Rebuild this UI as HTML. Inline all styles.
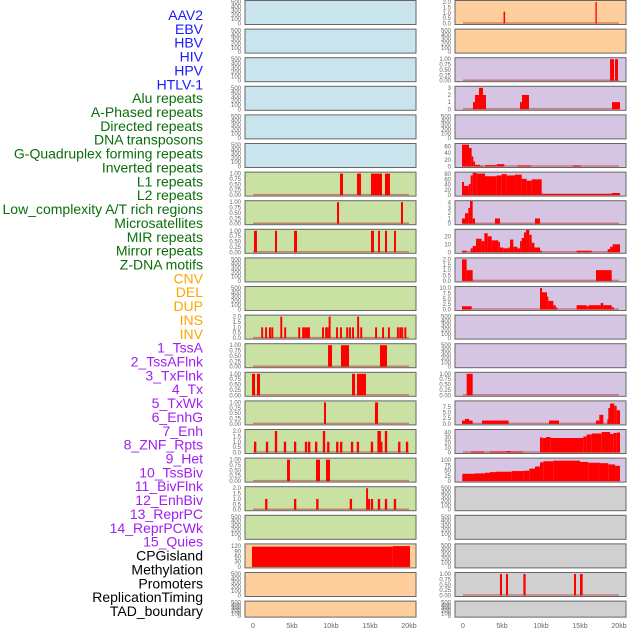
<!DOCTYPE html>
<html><head><meta charset="utf-8"><style>
html,body{margin:0;padding:0;background:#fff;width:630px;height:630px;overflow:hidden}
svg{display:block;font-family:"Liberation Sans",sans-serif}
</style></head><body>
<svg id="chart" width="630" height="630" viewBox="0 0 630 630"></svg>
<script>
const labelNames=["AAV2","EBV","HBV","HIV","HPV","HTLV-1","Alu repeats","A-Phased repeats","Directed repeats","DNA transposons","G-Quadruplex forming repeats","Inverted repeats","L1 repeats","L2 repeats","Low_complexity A/T rich regions","Microsatellites","MIR repeats","Mirror repeats","Z-DNA motifs","CNV","DEL","DUP","INS","INV","1_TssA","2_TssAFlnk","3_TxFlnk","4_Tx","5_TxWk","6_EnhG","7_Enh","8_ZNF_Rpts","9_Het","10_TssBiv","11_BivFlnk","12_EnhBiv","13_ReprPC","14_ReprPCWk","15_Quies","CPGisland","Methylation","Promoters","ReplicationTiming","TAD_boundary"];
const labelGroups=["v","v","v","v","v","v","r","r","r","r","r","r","r","r","r","r","r","r","r","c","c","c","c","c","s","s","s","s","s","s","s","s","s","s","s","s","s","s","s","o","o","o","o","o"];
const xTicks=[0,5,10,15,20];
const xTickLabels=["0","5kb","10kb","15kb","20kb"];
const leftBg=["b","b","b","b","b","b","g","g","g","g","g","g","g","g","g","g","g","g","g","o","o","o"];
const rightBg=["o","o","p","p","p","p","p","p","p","p","p","p","p","p","p","p","p","x","x","x","x","x"];
const E=[0,100,200,300,400,500];
const T1=[0,0.25,0.5,0.75,1];
const T2=[0,0.5,1,1.5,2];
const leftTicks=[E,E,E,E,E,E,T1,T1,T1,E,E,T2,T1,T1,T1,T2,T1,T2,E,[0,30,60,90,120],E,E];
const leftMax=[500,500,500,500,500,500,1,1,1,500,500,2,1,1,1,2,1,2,500,124,500,500];
const leftData=[[],[],[],[],[],[],
[[11.15,11.54,1],[13.33,13.85,1],[15.13,16.54,1],[16.92,17.56,1]],
[[10.77,11.03,1],[18.97,19.23,1]],
[[0.13,0.51,1],[2.82,3.08,1],[5.26,5.64,1],[15.13,15.51,1],[16.03,16.28,1],[16.92,17.18,1],[18.08,18.33,1]],
[],[],
[[1.05,1.3,1],[1.55,1.8,1],[2.05,2.3,1],[2.35,2.6,1],[3.5,3.75,2],[4.0,4.25,1],[5.8,6.05,1],[6.3,6.55,1],[6.55,6.8,1],[6.8,7.05,1],[7.05,7.3,1],[8.85,9.1,1],[9.25,9.5,1],[9.5,9.7,1],[9.7,9.95,2],[10.65,10.9,1],[11.15,11.4,1],[11.95,12.2,1],[12.3,12.55,1],[12.7,12.95,1],[13.35,13.6,2],[13.75,14.0,1],[15.65,15.9,1],[16.55,16.8,1],[17.3,17.55,1],[18.45,18.7,1],[18.75,19.0,1],[19.0,19.25,1],[19.4,19.65,1]],
[[9.62,10.13,1],[11.28,12.31,1],[16.28,17.18,1]],
[[-0.13,0.26,1],[0.51,0.9,1],[12.69,13.08,1],[13.33,14.49,1]],
[[9.1,9.36,1],[15.64,16.03,1]],
[[0.13,0.43,1],[1.65,1.95,1],[2.8,3.1,2],[3.95,4.25,1],[5.25,5.55,1],[6.65,6.95,1],[7.05,7.35,1],[7.95,8.25,1],[8.95,9.25,2],[9.5,9.8,1],[10.65,10.95,1],[11.15,11.45,1],[12.55,12.85,1],[13.3,13.6,1],[15.1,15.4,1],[15.95,16.4,2],[16.4,16.6,1],[16.9,17.2,2],[18.6,18.9,1],[19.6,19.9,1]],
[[4.36,4.74,1],[8.08,8.59,1],[9.36,9.87,1]],
[[1.55,1.85,1],[5.25,5.55,1],[8.1,8.4,1],[12.4,12.7,1],[14.5,14.75,2],[14.75,15.0,1],[15.1,15.4,1],[16.0,16.3,1],[16.9,17.2,1],[18.05,18.35,1]],
[],
[[-0.13,17.9,117],[17.9,20.13,120]],
[],[]];
const rightTicks=[T2,E,T1,[0,1,2,3],E,[0,20,40,60],[0,20,40,60,80],[0,1,2,3,4],[0,10,20],T2,[0,2.5,5,7.5,10],E,E,T1,[0,2.5,5,7.5],[0,10,20,30,40],[0,25,50,75,100],E,E,E,T1,E];
const rightMax=[2,500,1,3,500,64,82,4.1,27,2,10,500,500,1,9.5,43,103,500,500,500,1,500];
const rightData=[
[[5.2,5.4,1.1],[16.98,17.15,2]],
[],
[[18.85,19.36,1],[19.49,19.87,1]],
[[1.28,1.54,1],[1.54,2.05,2],[2.05,2.56,3],[2.56,2.95,2],[7.31,7.56,1],[7.56,8.46,2],[19.1,20.13,1]],
[],
[[-0.13,0.77,65],[0.77,1.11,55],[1.11,1.32,30],[1.32,1.54,15],[1.54,2.18,5],[2.18,2.52,2],[2.82,4.32,4],[4.32,5.3,7],[7.01,8.72,3],[14.06,15.09,3]],
[[-0.13,0.13,50],[0.13,0.73,35],[0.73,0.98,42],[0.98,1.24,75],[1.24,1.75,85],[1.75,2.82,82],[2.82,4.32,72],[4.32,4.96,75],[4.96,5.6,80],[5.6,6.67,75],[6.67,7.52,78],[7.52,8.16,62],[8.16,8.8,55],[8.8,10.09,60],[10.09,19.06,5],[19.06,20.13,8]],
[[-0.13,0.26,1],[0.26,0.68,2],[0.68,0.9,3],[0.9,1.24,4.3],[1.24,1.54,1],[4.1,4.74,1],[9.23,9.87,1]],
[[-0.13,0.47,2],[0.98,1.24,5],[1.24,1.67,8],[1.67,2.39,17],[2.39,2.74,14],[2.74,3.16,24],[3.16,3.68,20],[3.68,4.53,15],[4.53,4.74,13],[4.74,5.17,6],[5.17,5.81,5],[5.81,6.03,6],[6.03,6.45,16],[6.45,6.97,7],[6.97,7.31,5],[7.31,7.52,14],[7.52,7.82,18],[7.82,8.08,25],[8.08,8.5,28],[8.5,8.8,22],[8.8,9.15,12],[9.15,9.87,6],[9.87,10.09,2],[14.57,16.5,2],[18.55,18.85,4],[18.85,19.19,7],[19.19,20.13,10]],
[[-0.13,0.47,2],[0.47,1.24,1],[17.05,19.06,1]],
[[-0.13,1.11,1.5],[9.87,10.13,10],[10.13,10.77,8],[10.77,10.94,6],[10.94,11.58,4],[11.58,11.88,2],[11.88,12.09,1],[14.57,15.85,2],[15.85,16.07,1.5],[16.07,17.65,2],[17.65,17.99,3],[17.99,19.06,2],[19.06,19.36,1]],
[],[],
[[0.47,1.24,1]],
[[-0.13,0.26,1.5],[0.26,0.77,2.2],[0.77,1.24,1.5],[2.44,5.85,1.5],[11.03,12.31,1.5],[17.05,17.48,1.5],[17.48,17.99,4],[18.5,18.63,2],[18.63,18.85,7],[18.85,19.4,9],[19.4,19.7,8],[19.7,20.13,6]],
[[1.03,2.69,2],[3.46,5.6,2],[5.6,6.11,3],[6.11,7.65,2],[9.87,10.21,30],[10.21,10.64,29],[10.64,11.24,31],[11.24,15.43,29],[15.43,15.85,32],[15.85,16.5,36],[16.5,17.78,38],[17.78,18.85,41],[18.85,19.27,37],[19.27,19.7,39],[19.7,20.13,40]],
[[-0.09,1.54,35],[1.54,2.82,37],[2.82,3.46,40],[3.46,4.23,43],[4.23,6.24,45],[6.24,7.74,48],[7.74,8.5,50],[8.5,9.23,60],[9.23,9.87,70],[9.87,10.3,90],[10.3,11.58,95],[11.58,15.0,98],[15.0,16.07,92],[16.07,17.56,88],[17.56,18.63,86],[18.63,19.49,80],[19.49,20.13,73]],
[],[],[],
[[4.74,5.0,1],[5.51,5.77,1],[7.74,8.03,1],[14.23,14.49,1],[15.0,15.34,1]],
[]];

const NS="http://www.w3.org/2000/svg";
const svg=document.getElementById('chart');
const groupColor={v:"#1a1aff",r:"#0a6e0a",c:"#ffa500",s:"#a020f0",o:"#000000"};
const bgColor={b:"#c9e4ec",g:"#c9e1a3",o:"#fecf9c",p:"#d6c5e2",x:"#d0d0d0"};
function mk(tag,attrs){const e=document.createElementNS(NS,tag);for(const k in attrs)e.setAttribute(k,attrs[k]);svg.appendChild(e);return e;}
function fmt(v,ticks){const m=Math.max(...ticks);if(m===1)return v.toFixed(2);if(ticks.some(t=>t%1!==0))return v.toFixed(1);return String(v);}

labelNames.forEach((name,i)=>{
  const t=mk('text',{x:203,y:(15+i*13.86+5).toFixed(1),'text-anchor':'end','font-size':'14',fill:groupColor[labelGroups[i]]});
  t.textContent=name;
  
  
});

function drawColumn(x0,bgs,ticks,maxes,data,side){
  const kbScale=7.8, zeroX=x0+8;
  const xs=kb=>zeroX+kb*kbScale;
  for(let i=0;i<22;i++){
    const top=0.5+i*28.6;
    const h=(i===21)?16:24;
    const base=top+h-1;
    const ys=v=>base-(v/maxes[i])*(h-2.5);
    const r=mk('rect',{x:x0,y:top,width:171,height:h,fill:bgColor[bgs[i]],stroke:'#666',"stroke-width":1});
    
    
    ticks[i].forEach(tv=>{
      const tt=mk('text',{x:x0-4,y:(ys(tv)+2).toFixed(1),'text-anchor':'end','font-size':'6',fill:'#666'});
      tt.textContent=fmt(tv,ticks[i]);
      
      
    });
    if(data[i].length){
      const bl=mk('line',{x1:xs(0),x2:xs(20),y1:base-0.5,y2:base-0.5,stroke:'rgba(190,60,60,0.55)','stroke-width':1.5});
      
      
    }
    data[i].forEach(s=>{
      const x1=xs(s[0]),x2=xs(s[1]);
      const y=ys(s[2]);
      const b=mk('rect',{x:x1.toFixed(2),y:y.toFixed(2),width:Math.max(1.2,x2-x1).toFixed(2),height:(base-y).toFixed(2),fill:'#ff0000'});
      
      
    });
  }
  xTicks.forEach((kb,j)=>{
    const t=mk('text',{x:xs(kb),y:628,'text-anchor':'middle','font-size':'7',fill:'#666'});
    t.textContent=xTickLabels[j];
    
    
  });
}
drawColumn(245,leftBg,leftTicks,leftMax,leftData,'left');
drawColumn(455,rightBg,rightTicks,rightMax,rightData,'right');
</script>
</body></html>
